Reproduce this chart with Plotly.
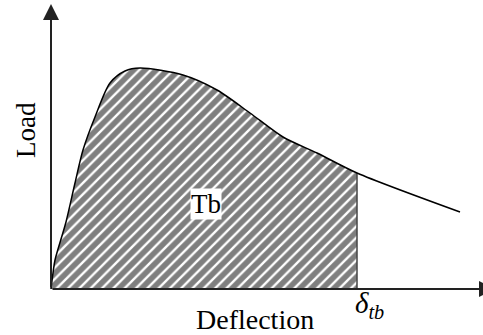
import plotly.graph_objects as go

# Load-deflection curve (arbitrary units)
deflection = [0, 2, 4, 15, 24, 32, 44, 59, 74, 89, 132, 166, 199, 232, 266, 306, 409]
load = [0, 16, 29, 67, 106, 139, 172, 206, 218, 221, 214, 199, 176, 152, 136, 116, 77]
delta_tb = 306

x_label = "Deflection"
y_label = "Load"
area_label = "Tb"
delta_label = "<i>δ<sub>tb</sub></i>"

# hatched part (up to delta_tb)
hx = [d for d in deflection if d <= delta_tb]
hy = load[:len(hx)]
load_at_delta = hy[-1]

fig = go.Figure()

fig.add_trace(go.Scatter(
    x=hx, y=hy, mode="lines", line=dict(width=0, shape="spline", smoothing=0.8),
    fill="tozeroy", fillcolor="white",
    fillpattern=dict(shape="/", fgcolor="black", bgcolor="white", size=8, solidity=0.7),
    hoverinfo="skip", showlegend=False))

fig.add_trace(go.Scatter(
    x=[delta_tb, delta_tb], y=[0, load_at_delta], mode="lines",
    line=dict(color="#444444", width=1.5), showlegend=False))

fig.add_trace(go.Scatter(
    x=deflection, y=load, mode="lines",
    line=dict(color="black", width=1.5, shape="spline", smoothing=0.8),
    showlegend=False))

x_end = 444
y_end = 285

# axes with arrows
fig.add_annotation(x=x_end, y=0, ax=0, ay=0, xref="x", yref="y", axref="x", ayref="y",
                   text="", showarrow=True, arrowhead=2, arrowsize=1.6, arrowwidth=2,
                   arrowcolor="#222222")
fig.add_annotation(x=0, y=y_end, ax=0, ay=0, xref="x", yref="y", axref="x", ayref="y",
                   text="", showarrow=True, arrowhead=2, arrowsize=1.6, arrowwidth=2,
                   arrowcolor="#222222")

serif = "Liberation Serif, Times New Roman, serif"
fig.add_annotation(x=-25, y=159, text=y_label, textangle=-90, showarrow=False,
                   font=dict(family=serif, size=27, color="black"))
fig.add_annotation(x=204, y=-30, text=x_label, showarrow=False,
                   font=dict(family=serif, size=28, color="black"))
fig.add_annotation(x=318, y=-16, text=delta_label, showarrow=False,
                   font=dict(family=serif, size=29, color="black"))
fig.add_annotation(x=155, y=85, text=area_label, showarrow=False, bgcolor="white",
                   borderpad=0, font=dict(family=serif, size=27, color="black"))

fig.update_layout(
    width=483, height=335, margin=dict(l=0, r=0, t=0, b=0),
    paper_bgcolor="white", plot_bgcolor="white",
    xaxis=dict(range=[-51, 432], visible=False, fixedrange=True),
    yaxis=dict(range=[-46, 289], visible=False, fixedrange=True),
    showlegend=False, hovermode=False)

fig.write_html("out.html", config={"displayModeBar": False},
               post_script="document.body.style.margin='0px';")
